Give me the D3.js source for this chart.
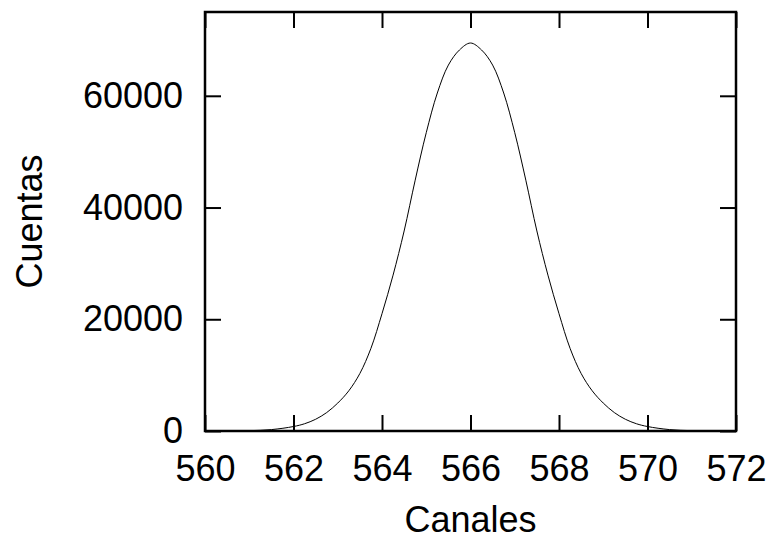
<!DOCTYPE html>
<html>
<head>
<meta charset="utf-8">
<script src="https://cdn.jsdelivr.net/npm/d3@7"></script>
<style>
  body { margin: 0; background: #fff; }
  text { font-family: "Liberation Sans", Arial, sans-serif; fill: #000; }
</style>
</head>
<body>
<div id="chartDiv"></div>
<script>
// canales (eje x) y cuentas
const canales = [560, 560.5, 561, 561.5, 562, 562.25, 562.5, 562.75, 563, 563.25, 563.5, 563.75,
  564, 564.25, 564.5, 564.75, 565, 565.25, 565.5, 565.75, 566, 566.25, 566.5, 566.75,
  567, 567.25, 567.5, 567.75, 568, 568.25, 568.5, 568.75, 569, 569.25, 569.5, 569.75,
  570, 570.5, 571, 571.5, 572];
const cuentas = [0, 10, 60, 250, 800, 1300, 2100, 3300, 5000, 7200, 10300, 14800,
  21000, 27900, 35800, 44900, 53400, 60500, 65500, 68200, 69450, 68200, 65500, 60500,
  53400, 44900, 35800, 27900, 21000, 14800, 10300, 7200, 5000, 3300, 2100, 1300,
  800, 250, 60, 10, 0];
const xTicks = [560, 562, 564, 566, 568, 570, 572];
const yTicks = [0, 20000, 40000, 60000];

const width = 770, height = 540;
const margin = {top: 12, right: 34, bottom: 109, left: 205};

let svg = d3.select("#chartDiv").append("svg")
    .attr("width", width)
    .attr("height", height);

let x = d3.scaleLinear()
    .domain([560, 572])
    .range([margin.left, width - margin.right]);

let y = d3.scaleLinear()
    .domain([0, 75000])
    .range([height - margin.bottom, margin.top]);

const tickLen = 16;

// eje de abajo con etiquetas
let gx = svg.append("g")
    .attr("transform", `translate(0, ${y(0)})`)
    .call(d3.axisBottom(x).tickValues(xTicks).tickSize(-tickLen).tickFormat(d3.format("d")));
gx.selectAll("text")
    .attr("y", 50)
    .attr("dy", 0)
    .style("font-size", "36px");

// eje izquierdo con etiquetas
let gy = svg.append("g")
    .attr("transform", `translate(${x(560)}, 0)`)
    .call(d3.axisLeft(y).tickValues(yTicks).tickSize(-tickLen).tickPadding(22).tickFormat(d3.format("d")));
gy.selectAll("text")
    .attr("dy", "0.32em")
    .style("font-size", "36px");

// ejes espejo (arriba y derecha) sin etiquetas
svg.append("g")
    .attr("transform", `translate(0, ${y(75000)})`)
    .call(d3.axisTop(x).tickValues(xTicks).tickSize(-tickLen).tickFormat(""));
svg.append("g")
    .attr("transform", `translate(${x(572)}, 0)`)
    .call(d3.axisRight(y).tickValues(yTicks).tickSize(-tickLen).tickFormat(""));

svg.selectAll(".domain").remove();
svg.selectAll(".tick line")
    .attr("stroke", "#000")
    .attr("stroke-width", 2);

// curva
let line = d3.line()
    .x((d, i) => x(canales[i]))
    .y(d => y(d))
    .curve(d3.curveCatmullRom.alpha(0.5));

svg.append("path")
    .datum(cuentas)
    .attr("fill", "none")
    .attr("stroke", "#000")
    .attr("stroke-width", 1)
    .attr("d", line);

// marco
svg.append("rect")
    .attr("x", x(560))
    .attr("y", y(75000))
    .attr("width", x(572) - x(560))
    .attr("height", y(0) - y(75000))
    .attr("fill", "none")
    .attr("stroke", "#000")
    .attr("stroke-width", 2.5);

// titulos de ejes
svg.append("text")
    .attr("x", (x(560) + x(572)) / 2)
    .attr("y", 532)
    .style("text-anchor", "middle")
    .style("font-size", "36px")
    .text("Canales");

svg.append("text")
    .attr("transform", `translate(42, ${(y(0) + y(75000)) / 2}) rotate(-90)`)
    .style("text-anchor", "middle")
    .style("font-size", "36px")
    .text("Cuentas");
</script>
</body>
</html>
